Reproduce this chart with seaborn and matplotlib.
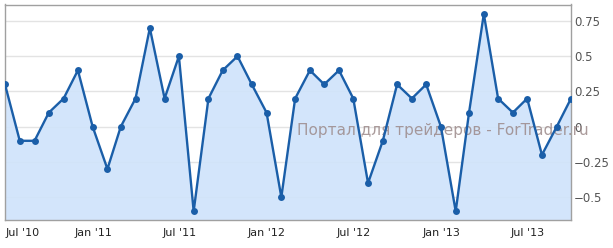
import matplotlib
matplotlib.use("Agg")
import matplotlib.pyplot as plt
import matplotlib.dates as mdates
import seaborn as sns
import pandas as pd
import numpy as np

months = pd.date_range("2010-06-30", periods=40, freq="ME")
values = [0.3, -0.1, -0.1, 0.1, 0.2, 0.4, 0.0, -0.3, 0.0, 0.2,
          0.7, 0.2, 0.5, -0.6, 0.2, 0.4, 0.5, 0.3, 0.1, -0.5,
          0.2, 0.4, 0.3, 0.4, 0.2, -0.4, -0.1, 0.3, 0.2, 0.3,
          0.0, -0.6, 0.1, 0.8, 0.2, 0.1, 0.2, -0.2, 0.0, 0.2]
ytick_vals = [-0.5, -0.25, 0, 0.25, 0.5, 0.75]
ytick_labels = ["\u22120.5", "\u22120.25", "0", "0.25", "0.5", "0.75"]
xtick_dates = ["2010-07-01", "2011-01-01", "2011-07-01", "2012-01-01",
               "2012-07-01", "2013-01-01", "2013-07-01"]
xtick_labels = ["Jul '10", "Jan '11", "Jul '11", "Jan '12", "Jul '12", "Jan '13", "Jul '13"]
watermark = "Портал для трейдеров - ForTrader.ru"

df = pd.DataFrame({"date": months, "value": values})

sns.set_style("white")
plt.rcParams['font.family'] = ['DejaVu Sans']

fig = plt.figure(figsize=(6.13, 2.48), dpi=100)
ax = fig.add_axes([5/613, 1-220/248, (571-5)/613, (220-4.5)/248])

ymin, ymax = -0.662, 0.867
ax.set_ylim(ymin, ymax)
ax.set_xlim(months[0], months[-1])

for yv in ytick_vals:
    ax.axhline(yv, color="#e3e3e3", lw=1, zorder=0)

ax.fill_between(df["date"], df["value"], ymin, color="#cfe3fb", alpha=0.9, lw=0, zorder=1)

ax.text(297/613, 1-135/248, watermark, transform=fig.transFigure,
        fontsize=11, color="#9c8a8a", alpha=0.85, zorder=2, va="baseline", ha="left")

sns.lineplot(data=df, x="date", y="value", ax=ax, color="#1a5ea8", lw=1.7,
             marker="o", markersize=5, markeredgewidth=0, zorder=3)

ax.yaxis.tick_right()
ax.set_yticks(ytick_vals)
ax.set_yticklabels(ytick_labels)
ax.tick_params(axis="y", length=0, pad=2, labelsize=8.5, labelcolor="#555555")

ax.set_xticks(pd.to_datetime(xtick_dates))
ax.set_xticklabels(xtick_labels)
ax.tick_params(axis="x", length=4, width=1, color="#a0a0a0", pad=2, labelsize=8, labelcolor="#222222")
ax.get_xticklabels()[0].set_horizontalalignment("left")

ax.set_xlabel("")
ax.set_ylabel("")
for s in ax.spines.values():
    s.set_color("#a0a0a0")
    s.set_linewidth(1)
    s.set_visible(True)

fig.savefig("out.png", dpi=100)
